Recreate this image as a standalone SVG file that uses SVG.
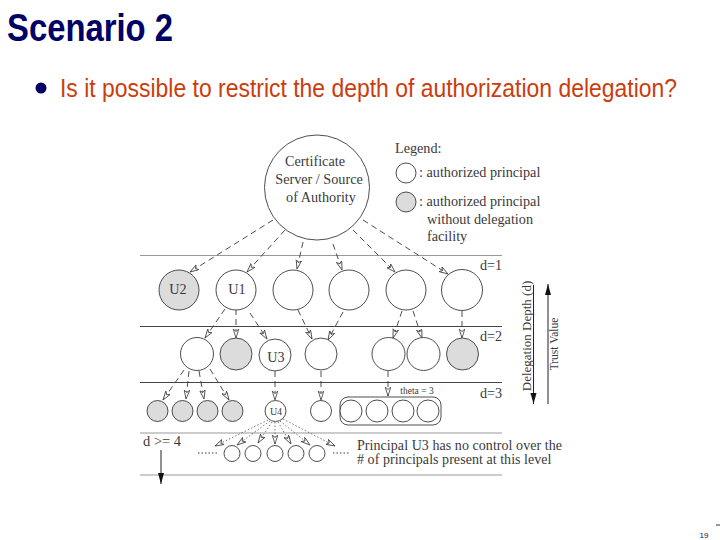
<svg xmlns="http://www.w3.org/2000/svg" width="720" height="540" viewBox="0 0 720 540">
<style>
text{font-family:"Liberation Serif",serif;fill:#3a3a3a}
.hd{font-family:"Liberation Sans",sans-serif}
.n{fill:#fff;stroke:#3a3a3a;stroke-width:.9}
.g{fill:#dcdcdc;stroke:#3a3a3a;stroke-width:.9}
.rule{stroke:#444;stroke-width:1;fill:none}
.rl{stroke:#999;stroke-width:1;fill:none}
.c{stroke:#3a3a3a;stroke-width:.9;fill:none;stroke-dasharray:6 4;marker-end:url(#o)}
.d{stroke:#555;stroke-width:.8;fill:none;stroke-dasharray:1.5 2;marker-end:url(#o)}
.s{stroke:#3a3a3a;stroke-width:1;fill:none;stroke-dasharray:1.5 2}
.a{stroke:#222;stroke-width:1;fill:none}
.t{font-size:14.200px}
.m{text-anchor:middle}
</style>
<defs>
<marker id="o" markerUnits="userSpaceOnUse" markerWidth="10" markerHeight="7" refX="9" refY="3" orient="auto"><path d="M0 .2L9 3L0 5.800L2.500 3Z" fill="#fff" stroke="#3a3a3a" stroke-width=".8"/></marker>
<marker id="b" markerUnits="userSpaceOnUse" markerWidth="12" markerHeight="8" refX="11" refY="3" orient="auto"><path d="M0 0L11 3L0 6Z" fill="#111"/></marker>
</defs>
<text class="hd" transform="translate(7 41) scale(.78 1)" font-size="39" font-weight="bold" style="fill:#000066" textLength="212.800" lengthAdjust="spacingAndGlyphs">Scenario 2</text>
<circle cx="41" cy="88" r="5.500" fill="#000066"/>
<text class="hd" transform="translate(60 97) scale(.85 1)" font-size="26" style="fill:#cc3c0c" textLength="725.900" lengthAdjust="spacingAndGlyphs">Is it possible to restrict the depth of authorization delegation?</text>
<g id="rules">
<path class="rl" d="M140 255.500H502M140 433H502M140 475H502"/>
<path class="rule" d="M140 326.500H502M140 382.500H502"/>
</g>
<g id="connectors">
<path class="c" d="M273 220L190 272"/><path class="c" d="M285 230L247 272"/><path class="c" d="M303 242L297 269"/><path class="c" d="M333 244L342 270"/><path class="c" d="M353 230L395 272"/><path class="c" d="M363 220L448 274"/>
<path class="c" d="M225 309L205 338"/><path class="c" d="M236 309L236 338"/><path class="c" d="M250 313L267 339"/><path class="c" d="M298 310L312 339"/><path class="c" d="M343 312L328 340"/><path class="c" d="M402 311L393 338"/><path class="c" d="M413 311L422 338"/><path class="c" d="M462 311L462 338"/>
<path class="c" d="M184 370L163 400"/><path class="c" d="M189 371L186 399"/><path class="c" d="M199 371L204 399"/><path class="c" d="M210 369L229 400"/><path class="c" d="M275 371L275 400"/><path class="c" d="M321 371L321 400"/><path class="c" d="M388 371L388 396"/>
<path class="d" d="M268 420L215 446"/><path class="d" d="M270 421L237 445"/><path class="d" d="M272 422L258 443"/><path class="d" d="M275 422L275 444"/><path class="d" d="M278 422L291 444"/><path class="d" d="M280 421L310 445"/><path class="d" d="M283 419L335 446"/>
<path class="s" d="M198 453H217M333 453H350"/>
<path class="a" d="M161 450V484" marker-end="url(#b)"/>
<path class="a" d="M533.500 285V404" marker-end="url(#b)"/>
<path class="a" d="M548 404V284" marker-end="url(#b)"/>
</g>
<g id="source"><circle class="n" cx="317" cy="187.500" r="52.500"/>
<text class="t m" x="315" y="166">Certificate</text><text class="t m" x="319" y="184">Server / Source</text><text class="t m" x="321" y="202">of Authority</text></g>
<g id="legend"><text class="t" x="395" y="153">Legend:</text><circle class="n" cx="406" cy="173" r="10"/><text class="t" x="419" y="177">: authorized principal</text><circle class="g" cx="406" cy="202" r="10"/><text class="t" x="419" y="206">: authorized principal</text><text class="t" x="427" y="224">without delegation</text><text class="t" x="427" y="241">facility</text></g>
<g id="u2"><circle class="g" cx="179" cy="290" r="20"/><text class="t m" x="178" y="294">U2</text></g>
<g id="u1"><circle class="n" cx="236" cy="290" r="20"/><text class="t m" x="237" y="294">U1</text></g>
<g id="d1"><circle class="n" cx="293" cy="290" r="20"/><circle class="n" cx="349" cy="290" r="20"/><circle class="n" cx="406" cy="290" r="20"/><circle class="n" cx="462" cy="290" r="20.500"/></g>
<g id="d2"><circle class="n" cx="197" cy="354" r="16.500"/><circle class="g" cx="236" cy="354" r="16"/><circle class="n" cx="321" cy="354" r="16"/><circle class="n" cx="388.500" cy="354" r="16.500"/><circle class="n" cx="423.500" cy="354" r="16.500"/><circle class="g" cx="462.500" cy="354" r="16"/></g>
<g id="u3"><circle class="n" cx="275" cy="355" r="16"/><text class="t m" x="276" y="362">U3</text></g>
<g id="d3"><circle class="g" cx="157.500" cy="411" r="10.500"/><circle class="g" cx="182.500" cy="411" r="10.500"/><circle class="g" cx="207.500" cy="411" r="10.500"/><circle class="g" cx="232.500" cy="411" r="10.500"/><circle class="n" cx="321" cy="411" r="10.500"/></g>
<g id="u4"><circle class="n" cx="275.500" cy="411" r="10.500"/><text class="m" x="276" y="415" font-size="10">U4</text></g>
<g id="group"><rect class="n" x="340" y="397" width="101" height="28" rx="8"/><circle class="n" cx="351" cy="411" r="11"/><circle class="n" cx="377" cy="411" r="11"/><circle class="n" cx="403" cy="411" r="11"/><circle class="n" cx="428" cy="411" r="11"/><text class="m" x="417" y="394" font-size="9.500">theta = 3</text></g>
<g id="d4"><circle class="n" cx="232" cy="453.500" r="8"/><circle class="n" cx="253" cy="453.500" r="8"/><circle class="n" cx="275" cy="453.500" r="8"/><circle class="n" cx="296" cy="453.500" r="8"/><circle class="n" cx="317" cy="453.500" r="8"/></g>
<g id="labels">
<text class="t" x="480" y="270">d=1</text><text class="t" x="480" y="341">d=2</text><text class="t" x="480" y="398">d=3</text>
<text x="143" y="446" font-size="14.500">d &gt;= 4</text>
<text x="357" y="450" font-size="14" textLength="205">Principal U3 has no control over the</text>
<text x="357" y="464" font-size="14" textLength="194.500"># of principals present at this level</text>
<text class="m" transform="translate(531 336) rotate(-90)" font-size="13">Delegation Depth (d)</text>
<text class="m" transform="translate(558 344) rotate(-90)" font-size="11.500">Trust Value</text>
</g>
<path d="M716 525H720" stroke="#333" fill="none"/>
<text class="hd m" x="704" y="538" font-size="8" style="fill:#222">19</text>
</svg>
